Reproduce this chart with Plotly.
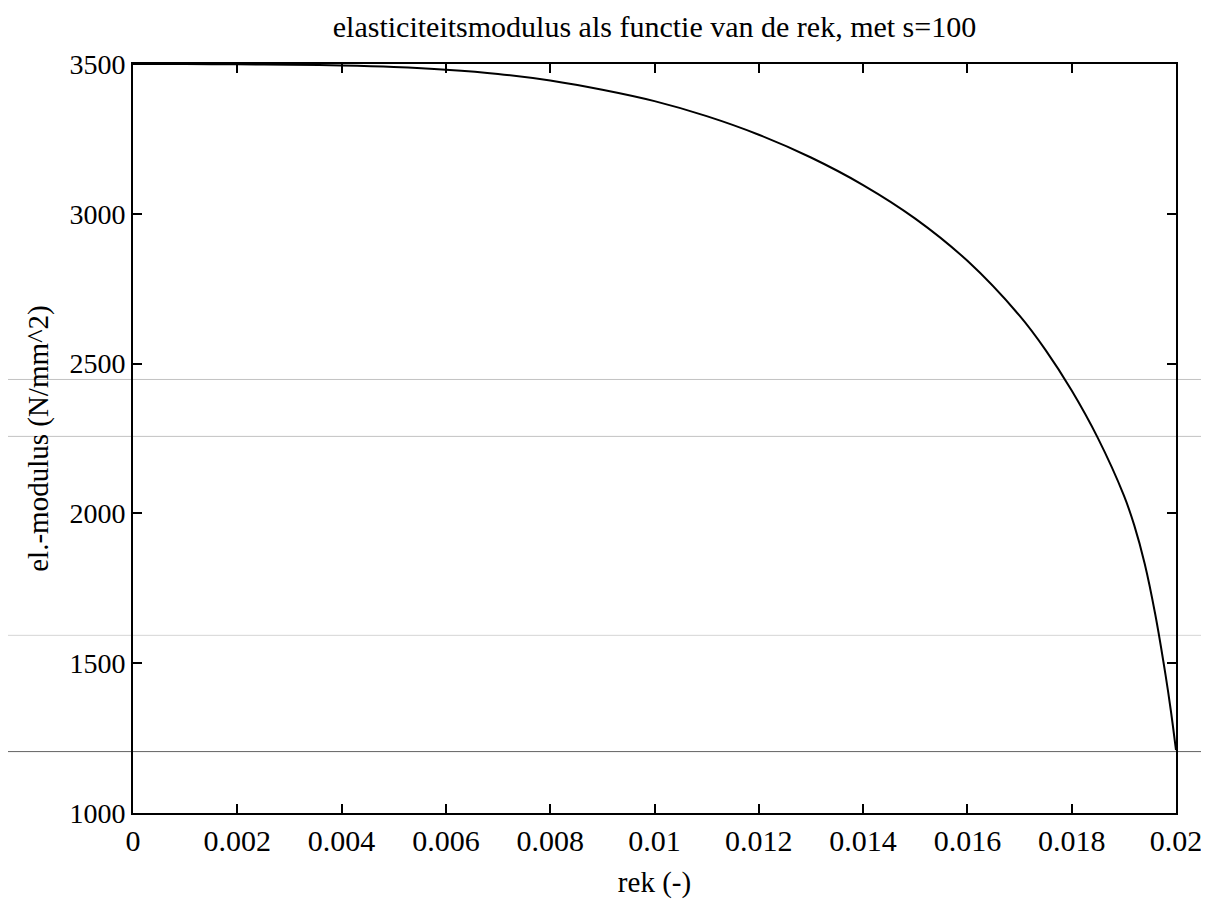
import plotly.graph_objects as go

# strain (rek) and modulus values
rek = [0.0, 0.001, 0.002, 0.003, 0.004, 0.005, 0.006, 0.007, 0.008, 0.009,
       0.010, 0.011, 0.012, 0.013, 0.014, 0.015, 0.016, 0.017, 0.0175,
       0.018, 0.0185, 0.019, 0.0192, 0.0194, 0.0196, 0.0198, 0.0199, 0.02]
modulus = [3500, 3499.8, 3499, 3497.5, 3495, 3490, 3481, 3467, 3445, 3414,
           3376, 3326, 3264, 3188, 3096, 2984, 2843, 2660, 2545,
           2410, 2252, 2060, 1960, 1832, 1665, 1460, 1343, 1210]

x_ticks = [0, 0.002, 0.004, 0.006, 0.008, 0.01, 0.012, 0.014, 0.016, 0.018, 0.02]
x_tick_labels = ["0", "0.002", "0.004", "0.006", "0.008", "0.01", "0.012",
                 "0.014", "0.016", "0.018", "0.02"]
y_ticks = [1000, 1500, 2000, 2500, 3000, 3500]
y_tick_labels = ["1000", "1500", "2000", "2500", "3000", "3500"]

title_text = "elasticiteitsmodulus als functie van de rek, met s=100"
x_title = "rek (-)"
y_title = "el.-modulus (N/mm^2)"

# faint horizontal scan lines visible on the scanned page
scan_lines = [2447, 2257, 1593, 1205]
scan_colors = ["rgba(120,120,120,0.45)", "rgba(120,120,120,0.45)",
               "rgba(120,120,120,0.3)", "rgba(60,60,60,0.8)"]

font_family = "Liberation Serif, Times New Roman, serif"

fig = go.Figure()
fig.add_trace(go.Scatter(
    x=rek, y=modulus, mode="lines",
    line=dict(color="black", width=2, shape="spline", smoothing=1.0),
    showlegend=False, hoverinfo="skip",
))

for yv, col in zip(scan_lines, scan_colors):
    fig.add_shape(type="line", xref="paper", yref="y",
                  x0=-0.2, x1=1.1, y0=yv, y1=yv,
                  line=dict(color=col, width=1), layer="below")

axis_common = dict(
    showline=True, linecolor="black", linewidth=2, mirror="ticks",
    ticks="inside", ticklen=9, tickwidth=1.5, tickcolor="black",
    showgrid=False, zeroline=False, ticklabeloverflow="allow",
    automargin=False,
)

fig.update_xaxes(range=[0, 0.02], tickvals=x_ticks, ticktext=x_tick_labels,
                 tickfont=dict(family=font_family, size=30, color="black"),
                 title=dict(text=x_title, font=dict(family=font_family, size=29, color="black"),
                            standoff=16),
                 **axis_common)
fig.update_yaxes(range=[1000, 3500], tickvals=y_ticks, ticktext=y_tick_labels,
                 tickfont=dict(family=font_family, size=28, color="black"),
                 title=dict(text=y_title, font=dict(family=font_family, size=29, color="black"),
                            standoff=12),
                 **axis_common)

fig.update_layout(
    width=1193, height=900,
    margin=dict(l=125, r=25, t=56, b=95),
    paper_bgcolor="white", plot_bgcolor="white",
    title=dict(text=title_text, xref="paper", x=0.5, xanchor="center",
               yref="container", y=0.979, yanchor="middle",
               font=dict(family=font_family, size=30, color="black")),
)

fig.write_html("out.html")
